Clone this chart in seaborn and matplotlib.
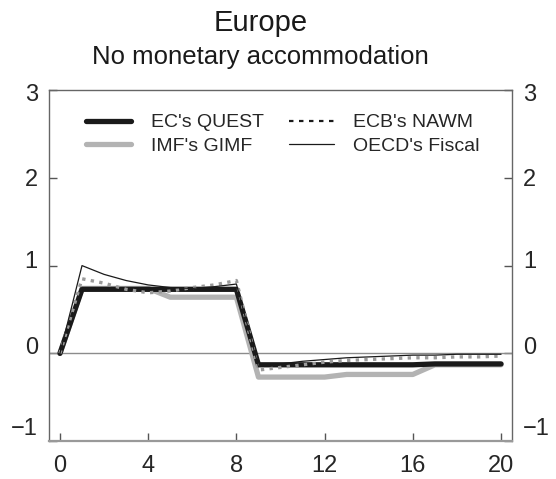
import pandas as pd
import matplotlib.pyplot as plt
import matplotlib.transforms as mtransforms
import seaborn as sns

# Quarters after the shock
quarters = list(range(21))

# Model responses
quest = [0, 0.73, 0.73, 0.73, 0.73, 0.73, 0.73, 0.73, 0.73,
         -0.13, -0.13, -0.13, -0.13, -0.13, -0.13, -0.13, -0.13, -0.12, -0.12, -0.12, -0.12]
gimf = [0, 0.74, 0.74, 0.74, 0.74, 0.64, 0.64, 0.64, 0.64,
        -0.27, -0.27, -0.27, -0.27, -0.24, -0.24, -0.24, -0.24, -0.13, -0.13, -0.13, -0.13]
nawm = [0, 0.85, 0.80, 0.73, 0.69, 0.71, 0.75, 0.78, 0.83,
        -0.19, -0.16, -0.13, -0.10, -0.08, -0.07, -0.06, -0.05, -0.05, -0.04, -0.04, -0.03]
oecd = [0, 1.0, 0.90, 0.83, 0.78, 0.75, 0.74, 0.76, 0.79,
        -0.15, -0.12, -0.09, -0.07, -0.05, -0.04, -0.03, -0.02, -0.02, -0.01, -0.01, -0.01]

x_ticks = [0, 4, 8, 12, 16, 20]
y_ticks = [-1, 0, 1, 2, 3]
y_labels = ['\u22121', '0', '1', '2', '3']

sns.set_style("white")
plt.rcParams['font.family'] = ['Liberation Sans', 'DejaVu Sans']

fig = plt.figure(figsize=(5.56, 4.79), dpi=100)
ax = fig.add_axes([0.088, 0.079, 0.833, 0.733])

ax.axhline(0, color='#8c8c8c', linewidth=1.0, zorder=1)

df = pd.DataFrame({'q': quarters, 'quest': quest, 'gimf': gimf, 'nawm': nawm, 'oecd': oecd})

sns.lineplot(data=df, x='q', y='gimf', ax=ax, color='#b3b3b3', linewidth=3.8,
             label="IMF's GIMF", zorder=2)
sns.lineplot(data=df, x='q', y='quest', ax=ax, color='#1a1a1a', linewidth=3.8,
             label="EC's QUEST", zorder=3)
sns.lineplot(data=df, x='q', y='nawm', ax=ax, color='#9a9a9a', linewidth=2.4,
             linestyle=(0, (1, 1.6)), label="ECB's NAWM", zorder=4)
sns.lineplot(data=df, x='q', y='oecd', ax=ax, color='#1a1a1a', linewidth=0.9,
             label="OECD's Fiscal", zorder=5)

ax.set_xlim(-0.5, 20.5)
ax.set_ylim(-1, 3)
ax.set_xticks(x_ticks)
ax.set_yticks(y_ticks)
ax.set_yticklabels(y_labels)
ax.set_xlabel('')
ax.set_ylabel('')
ax.tick_params(axis='x', direction='in', length=6, width=1, color='#555555',
               labelsize=17, pad=10, bottom=True)
ax.tick_params(axis='y', direction='in', length=6, width=1, color='#555555',
               labelsize=17, left=True, right=True, labelleft=True, labelright=True, pad=8)
for s in ax.spines.values():
    s.set_color('#666666')
    s.set_linewidth(1.0)
ax.spines['bottom'].set_color('#999999')
ax.spines['bottom'].set_linewidth(1.6)

# the original figure sets its lower y labels a little above their ticks
shift_px = [15, 8, 6, 0, -2]
for tick, dy in zip(ax.yaxis.get_major_ticks(), shift_px):
    off = mtransforms.ScaledTranslation(0, dy / 100, fig.dpi_scale_trans)
    tick.label1.set_transform(tick.label1.get_transform() + off)
    tick.label2.set_transform(tick.label2.get_transform() + off)

handles, labels = ax.get_legend_handles_labels()
order = [1, 0, 2, 3]
leg_handles = [handles[i] for i in order]
leg_labels = [labels[i] for i in order]
leg_handles[2] = plt.Line2D([], [], color='#1a1a1a', linewidth=1.6, linestyle=(0, (2, 2.5)))
ax.legend(leg_handles, leg_labels, ncol=2, frameon=False, loc='upper left',
          bbox_to_anchor=(0.06, 0.96), fontsize=14, handlelength=2.3,
          handletextpad=1.0, columnspacing=1.3, labelspacing=0.3, borderpad=0)

fig.text(0.468, 0.952, 'Europe', ha='center', va='center', fontsize=21, color='#1a1a1a')
fig.text(0.468, 0.880, 'No monetary accommodation', ha='center', va='center',
         fontsize=18.5, color='#1a1a1a')

fig.savefig('out.png', dpi=100)
